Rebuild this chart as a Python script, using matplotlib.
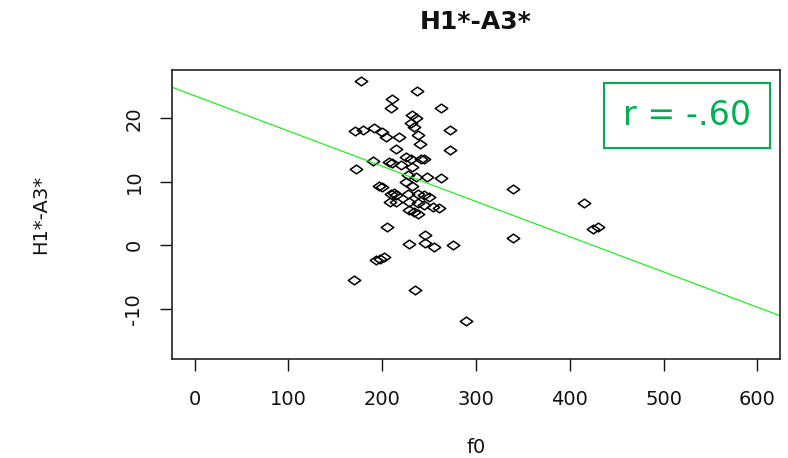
import numpy as np
import matplotlib.pyplot as plt
from matplotlib.path import Path
from matplotlib.patches import Rectangle

plt.rcParams['axes.unicode_minus'] = False

# f0 values and H1*-A3* values
f0 = [177, 237, 210, 209, 263, 232, 236, 231, 234, 272,
      171, 180, 191, 200, 204, 218, 238, 240, 215, 272,
      190, 207, 211, 225, 231, 241, 245, 172, 220, 232,
      227, 236, 248, 263, 197, 200, 225, 232, 209, 213,
      215, 228, 238, 245, 250, 208, 215, 229, 238, 245,
      254, 261, 234, 238, 229, 205, 246, 229, 246, 255,
      275, 193, 198, 202, 170, 235, 289, 339, 415, 425,
      430, 339]
h1a3 = [25.8, 24.3, 23.1, 21.6, 21.6, 20.5, 20.0, 19.2, 18.6, 18.1,
        18.0, 18.1, 18.4, 17.8, 17.1, 17.1, 17.3, 15.9, 15.2, 15.0,
        13.3, 13.1, 12.9, 13.9, 13.6, 13.6, 13.6, 12.0, 12.6, 12.3,
        11.0, 10.8, 10.7, 10.6, 9.4, 9.2, 10.0, 9.4, 8.1, 8.3,
        7.9, 8.1, 8.1, 7.9, 7.6, 6.8, 6.8, 6.8, 6.7, 6.3,
        6.1, 5.8, 5.2, 5.0, 5.5, 2.9, 1.6, 0.2, 0.3, -0.2,
        0.0, -2.3, -2.1, -1.9, -5.4, -7.1, -11.9, 8.8, 6.7, 2.6,
        2.9, 1.2]

# regression line
intercept = 23.55
slope = -0.0555
r_label = "r = -.60"

xticks = [0, 100, 200, 300, 400, 500, 600]
yticks = [-10, 0, 10, 20]

fig = plt.figure(figsize=(7.88, 4.58), dpi=100)
ax = fig.add_axes([0.2183, 0.2162, 0.7715, 0.631])

# wide open diamond like the stretched R pch=5
diamond = Path([(-1, 0), (0, 0.7), (1, 0), (0, -0.7), (-1, 0)],
               [Path.MOVETO, Path.LINETO, Path.LINETO, Path.LINETO, Path.CLOSEPOLY])
ax.plot(f0, h1a3, linestyle='none', marker=diamond, markersize=9,
        markerfacecolor='none', markeredgecolor='black', markeredgewidth=1.1)

ax.axline((0, intercept), slope=slope, color='#22ee22', linewidth=0.9)

ax.set_xlim(-24, 624)
ax.set_ylim(-17.9, 27.6)
ax.set_xticks(xticks)
ax.set_yticks(yticks)
ax.tick_params(axis='both', direction='out', length=8.6, width=1.0,
               labelsize=14, colors='#111111')
ax.tick_params(axis='x', pad=14)
ax.tick_params(axis='y', pad=12, labelrotation=90)
for lab in ax.get_yticklabels():
    lab.set_va('center')
for sp in ax.spines.values():
    sp.set_linewidth(1.2)
    sp.set_color('#222222')

# r annotation box
ax.add_patch(Rectangle((0.7105, 0.730), 0.273, 0.225, transform=ax.transAxes,
                       fill=False, edgecolor='#00b050', linewidth=1.5))
ax.text(0.847, 0.843, r_label, transform=ax.transAxes, ha='center', va='center',
        fontsize=24, color='#00b050')

fig.text(0.604, 0.952, "H1*-A3*", ha='center', va='center',
         fontsize=18, fontweight='bold', color='#111111')
fig.text(0.604, 0.022, "f0", ha='center', va='center', fontsize=14, color='#111111')
fig.text(0.051, 0.532, "H1*-A3*", ha='center', va='center', rotation=90,
         fontsize=14, color='#111111')

fig.savefig("out.png", dpi=100)
